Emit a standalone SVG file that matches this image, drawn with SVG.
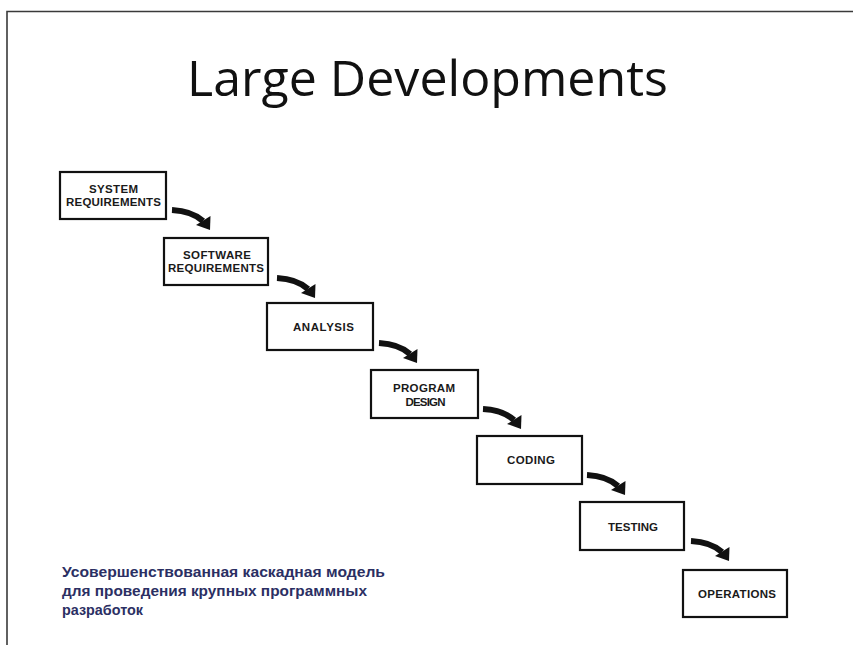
<svg xmlns="http://www.w3.org/2000/svg" width="853" height="645" viewBox="0 0 853 645">
<style>
.frame{fill:none;stroke:#3a3a3a;stroke-width:1.6}
.box{fill:#fff;stroke:#111;stroke-width:2.2}
.lbl{font-family:"Liberation Sans",Arial,sans-serif;font-weight:bold;font-size:11.5px;fill:#1a1a1a;text-anchor:middle}
.title{font-family:"Open Sans","Noto Sans",sans-serif;font-size:50px;fill:#111}
.cap{font-family:"Liberation Sans",Arial,sans-serif;font-weight:bold;font-size:15px;fill:#2b2f63}
</style>
<defs>
<g id="arrow">
<path d="M0,0 Q20,1 31,11" fill="none" stroke="#111" stroke-width="6"/>
<polygon points="38,20 38.5,6 24,15" fill="#111"/>
</g>
</defs>
<rect width="853" height="645" fill="#fff"/>
<path class="frame" d="M7,645 V11.5 H853"/>
<text class="title" x="187" y="96" textLength="481" lengthAdjust="spacingAndGlyphs">Large Developments</text>

<g id="connectors">
<use href="#arrow" x="172" y="210"/>
<use href="#arrow" x="277" y="278"/>
<use href="#arrow" x="379" y="343"/>
<use href="#arrow" x="483" y="409"/>
<use href="#arrow" x="587" y="475"/>
<use href="#arrow" x="691" y="541"/>
</g>

<g id="system-requirements">
<rect class="box" x="60" y="172" width="106" height="47"/>
<text class="lbl" x="113.5" y="193" textLength="49" lengthAdjust="spacing">SYSTEM</text>
<text class="lbl" x="113.5" y="206" textLength="95" lengthAdjust="spacing">REQUIREMENTS</text>
</g>
<g id="software-requirements">
<rect class="box" x="164" y="238" width="104" height="47"/>
<text class="lbl" x="217" y="259" textLength="68" lengthAdjust="spacing">SOFTWARE</text>
<text class="lbl" x="216" y="272" textLength="96" lengthAdjust="spacing">REQUIREMENTS</text>
</g>
<g id="analysis">
<rect class="box" x="267" y="303" width="106" height="47"/>
<text class="lbl" x="323.5" y="331" textLength="61" lengthAdjust="spacing">ANALYSIS</text>
</g>
<g id="program-design">
<rect class="box" x="371" y="370" width="107" height="48"/>
<text class="lbl" x="424" y="392" textLength="62" lengthAdjust="spacing">PROGRAM</text>
<text class="lbl" x="425.5" y="406" textLength="40" lengthAdjust="spacing">DESIGN</text>
</g>
<g id="coding">
<rect class="box" x="477" y="436" width="105" height="48"/>
<text class="lbl" x="531" y="464" textLength="48" lengthAdjust="spacing">CODING</text>
</g>
<g id="testing">
<rect class="box" x="580" y="502" width="104" height="48"/>
<text class="lbl" x="633" y="531" textLength="50" lengthAdjust="spacing">TESTING</text>
</g>
<g id="operations">
<rect class="box" x="683" y="570" width="104" height="47"/>
<text class="lbl" x="737" y="598" textLength="78" lengthAdjust="spacing">OPERATIONS</text>
</g>

<g id="caption">
<text class="cap" x="62" y="577" textLength="323" lengthAdjust="spacingAndGlyphs">Усовершенствованная каскадная модель</text>
<text class="cap" x="62" y="596" textLength="305" lengthAdjust="spacingAndGlyphs">для проведения крупных программных</text>
<text class="cap" x="62" y="615" textLength="81" lengthAdjust="spacingAndGlyphs">разработок</text>
</g>
</svg>
